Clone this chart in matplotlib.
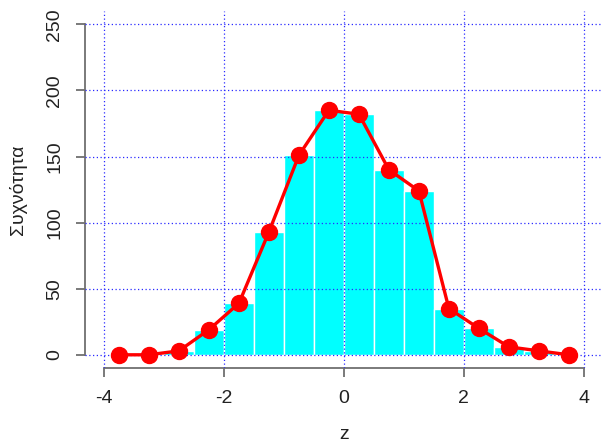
import numpy as np
import matplotlib
matplotlib.use('Agg')
from matplotlib import pyplot as plt

plt.rcParams['font.family'] = ['Liberation Sans', 'DejaVu Sans']
plt.rcParams['axes.unicode_minus'] = False

# histogram of z with bin width 0.5, plus frequency polygon through the midpoints
bin_edges = [-4.0, -3.5, -3.0, -2.5, -2.0, -1.5, -1.0, -0.5, 0.0,
             0.5, 1.0, 1.5, 2.0, 2.5, 3.0, 3.5, 4.0]
counts = [0, 0, 3, 19, 39, 93, 151, 185, 182, 140, 124, 35, 20, 6, 3, 0]
xticks = [-4, -2, 0, 2, 4]
yticks = [0, 50, 100, 150, 200, 250]

mids = [(bin_edges[i] + bin_edges[i+1]) / 2 for i in range(len(counts))]
widths = np.diff(bin_edges)

fig = plt.figure(figsize=(6.04, 4.45), dpi=100)
ax = fig.add_axes([0.1404, 0.173, 0.858, 0.802])

ax.bar(mids, counts, width=widths, color='#00ffff', edgecolor='white', linewidth=1.0, zorder=1)
ax.plot(mids, counts, color='red', linewidth=2.4, marker='o', markersize=11.5, zorder=3)

ax.set_xlim(-4.32, 4.32)
ax.set_ylim(-10, 260)
ax.set_xticks(xticks)
ax.set_yticks(yticks)

ax.set_axisbelow(False)
ax.grid(True, color='#2a2aff', linestyle=(0, (1, 2)), linewidth=0.9)

for side in ['top', 'right']:
    ax.spines[side].set_visible(False)
ax.spines['left'].set_bounds(0, 250)
ax.spines['bottom'].set_bounds(-4, 4)
for side in ['left', 'bottom']:
    ax.spines[side].set_color('#707070')
    ax.spines[side].set_linewidth(1.3)

ax.tick_params(axis='both', length=6.5, width=1.3, color='#707070', labelsize=14, labelcolor='#222222', pad=9)
plt.setp(ax.get_yticklabels(), rotation=90, va='center')

ax.set_xlabel('z', fontsize=14, color='#222222', labelpad=14)
ax.set_ylabel('Συχνότητα', fontsize=14, color='#222222', labelpad=14)

plt.savefig('out.png', dpi=100)
